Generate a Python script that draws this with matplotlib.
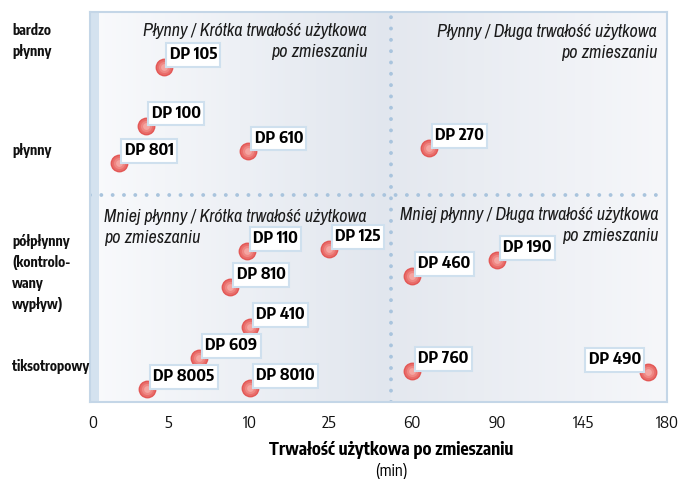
import numpy as np
import matplotlib
matplotlib.use('Agg')
import matplotlib.pyplot as plt
from matplotlib.patches import Rectangle
from matplotlib.colors import LinearSegmentedColormap
from matplotlib.transforms import blended_transform_factory

NARROW = ['Encode Sans Condensed', 'Liberation Sans', 'DejaVu Sans']
NARROW_IT = ['Archivo Narrow', 'Liberation Sans', 'DejaVu Sans']

# os X: nieliniowa skala czasu (min)
TICKS_MIN = [0, 5, 10, 25, 60, 90, 145, 180]
TICK_POS = [0, 75, 157, 236, 319, 404, 490, 574]

# produkty
names = ['DP 105', 'DP 100', 'DP 801', 'DP 610', 'DP 270',
         'DP 110', 'DP 125', 'DP 810', 'DP 410', 'DP 609', 'DP 8005', 'DP 8010',
         'DP 460', 'DP 190', 'DP 760', 'DP 490']
pot_life = [4.7, 3.5, 1.7, 9.9, 66, 9.8, 25, 8.8, 10, 6.9, 3.6, 10, 60, 90, 60, 172]
fluidity = [8.59, 7.08, 6.13, 6.44, 6.51, 3.87, 3.92, 2.95, 1.92, 1.13, 0.33, 0.36,
            3.23, 3.64, 0.79, 0.77]

categories = ['bardzo\npłynny', 'płynny', 'półpłynny\n(kontrolo-\nwany\nwypływ)', 'tiksotropowy']
category_y = [9.26, 6.46, 3.31, 0.9]

quadrants = ['Płynny / Krótka trwałość użytkowa\npo zmieszaniu',
             'Płynny / Długa trwałość użytkowa\npo zmieszaniu',
             'Mniej płynny / Krótka trwałość użytkowa\npo zmieszaniu',
             'Mniej płynny / Długa trwałość użytkowa\npo zmieszaniu']

X_DIV = 51
Y_DIV = 5.31

_xv = [-5] + TICKS_MIN + [215]
_xp = [-75] + TICK_POS + [658]


def fwd(x):
    return np.interp(x, _xv, _xp)


def inv(p):
    return np.interp(p, _xp, _xv)


fig = plt.figure(figsize=(6.78, 4.79), dpi=100)
ax = fig.add_axes([90 / 678, 1 - 402 / 479, 577 / 678, 390 / 479])
ax.set_xscale('function', functions=(fwd, inv))
x0, x1 = -0.2, 180
ax.set_xlim(x0, x1)
ax.set_ylim(0, 10)

# tło z gradientem
fdiv = (fwd(X_DIV) - fwd(x0)) / (fwd(x1) - fwd(x0))
cm_l = LinearSegmentedColormap.from_list('l', ['#f9fafc', '#e1e6ee'])
cm_r = LinearSegmentedColormap.from_list('r', ['#e4e8ef', '#f6f7fa'])
grad = np.linspace(0, 1, 256).reshape(1, -1)
ax.imshow(grad, cmap=cm_l, extent=(0, fdiv, 0, 1), transform=ax.transAxes,
          aspect='auto', zorder=0)
ax.imshow(grad, cmap=cm_r, extent=(fdiv, 1, 0, 1), transform=ax.transAxes,
          aspect='auto', zorder=0)
ax.set_xlim(x0, x1)
ax.set_ylim(0, 10)
ax.add_patch(Rectangle((0, 0), 9 / 577, 1, transform=ax.transAxes,
                       color='#d4e2ef', zorder=1, lw=0))

# linie podziału
dot = dict(color='#a9c4dd', lw=2.8, dashes=(0.01, 2.9), dash_capstyle='round', zorder=2)
ax.axhline(Y_DIV, **dot)
ax.axvline(X_DIV, **dot)

for s in ax.spines.values():
    s.set_color('#c4d6e7')
    s.set_linewidth(1.5)

# punkty
for size, col in [(165, '#e35856'), (115, '#e96e6b'), (65, '#ef8783'), (24, '#f5a5a1')]:
    ax.scatter(pot_life, fluidity, s=size, color=col, lw=0, zorder=3)

for n, x, y in zip(names, pot_life, fluidity):
    if x > 150:
        dx, ha = -5, 'right'
    else:
        dx, ha = 4.5, 'left'
    ax.annotate(n, (x, y), xytext=(dx, 8.8), textcoords='offset points',
                ha=ha, va='center', fontsize=12, fontweight='bold', family=NARROW,
                zorder=4,
                bbox=dict(boxstyle='square,pad=0.2', fc='white', ec='#cfe0ee', lw=1.5))

# opisy ćwiartek
qkw = dict(transform=ax.transAxes, fontsize=13, style='italic', family=NARROW_IT,
           color='#1a1a1a', linespacing=1.42, va='top')
ax.text((367 - 90) / 577, 1 - 11 / 390, quadrants[0], ha='right', multialignment='right', **qkw)
ax.text((657 - 90) / 577, 1 - 12 / 390, quadrants[1], ha='right', multialignment='right', **qkw)
ax.text((104 - 90) / 577, 1 - 197 / 390, quadrants[2], ha='left', multialignment='left', **qkw)
ax.text((658 - 90) / 577, 1 - 195 / 390, quadrants[3], ha='right', multialignment='right', **qkw)

# kategorie płynności
tr = blended_transform_factory(fig.transFigure, ax.transData)
for c, y in zip(categories, category_y):
    ax.text(12 / 678, y, c, transform=tr, ha='left', va='center', fontsize=10,
            fontweight='bold', family=NARROW, linespacing=1.5, color='#111111')

ax.set_xticks(TICKS_MIN)
ax.set_xticklabels([str(t) for t in TICKS_MIN], family=NARROW, fontsize=12)
ax.set_yticks([])
ax.tick_params(axis='x', length=0, pad=9, colors='#111111')
ax.xaxis.set_minor_locator(matplotlib.ticker.NullLocator())

fig.text(391 / 678, 1 - 450 / 479, 'Trwałość użytkowa po zmieszaniu', ha='center',
         va='center', fontsize=12.5, fontweight='bold', family=NARROW)
fig.text(391 / 678, 1 - 471 / 479, '(min)', ha='center', va='center',
         fontsize=11.5, family=NARROW)

fig.savefig('out.png', dpi=100)
